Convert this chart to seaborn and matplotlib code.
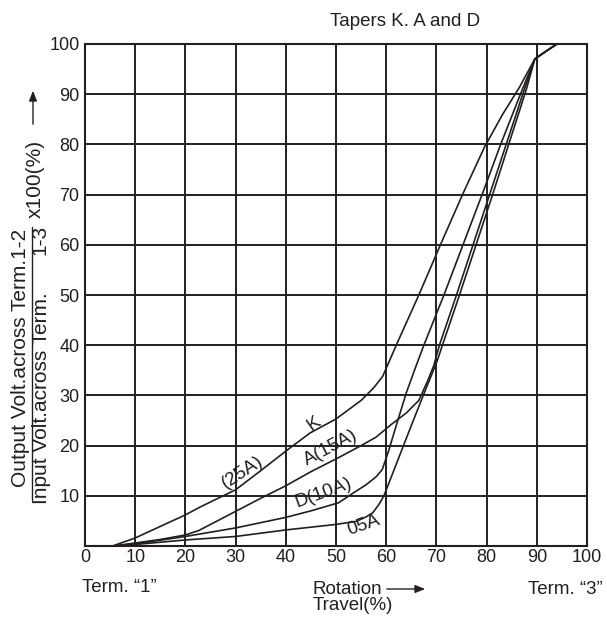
import matplotlib
matplotlib.use("Agg")
import matplotlib.pyplot as plt
from matplotlib.lines import Line2D
import pandas as pd
import seaborn as sns

# -----------------------------
# Taper curves (rotation travel %, output %)
# -----------------------------
travel_k = [5.5, 10, 15, 20, 23, 30, 35, 40, 44.8, 50, 55, 57.5, 59.3, 60.7, 62, 66.5, 70.8, 75.2, 79.6, 83.2, 86.5, 89.6, 91.6, 94]
volt_k = [0, 1.6, 3.9, 6.2, 7.8, 11.2, 15, 18.9, 22.5, 25.3, 29, 31.5, 33.8, 37, 40, 50, 60, 70, 79.5, 86, 91.3, 97, 98.4, 100]

travel_a = [5.5, 10, 15, 20, 22.7, 30, 35, 40, 45, 50.5, 55, 58, 61, 64, 66.5, 68.3, 69.5, 70.6, 74.0, 77.3, 80.6, 83.9, 87.5, 89.6, 91.6, 94]
volt_a = [0, 0.6, 1.3, 2.2, 3.1, 6.9, 9.5, 12, 14.8, 17.6, 20, 21.7, 24.2, 26.5, 29, 33, 36, 40, 50, 60, 70, 80, 90.9, 97, 98.4, 100]

travel_d = [5.5, 10, 20, 30, 40, 45, 50.5, 53.5, 56, 58, 59.2, 60.5, 62, 64, 66, 67.5, 71.5, 75.3, 79.1, 82.8, 87.1, 89.6, 91.6, 94]
volt_d = [0, 0.4, 1.9, 3.6, 5.7, 7, 8.6, 10.6, 12.2, 13.8, 15.2, 19, 24, 30.5, 36, 40, 50, 60, 70, 80, 90.9, 97, 98.4, 100]

travel_05a = [5.5, 10, 20, 30, 40, 50, 54, 56, 57.3, 58.5, 59.5, 61.5, 63.4, 65.4, 67.3, 69, 70.2, 71.2, 74.6, 77.9, 81.2, 84.4, 87.9, 89.6, 91.6, 94]
volt_05a = [0, 0.3, 1.2, 1.9, 3.2, 4.3, 4.9, 5.8, 6.6, 8.2, 9.9, 15, 19.9, 25, 29.8, 34, 37, 40, 50, 60, 70, 80, 90.9, 97, 98.4, 100]

x_ticks = [0, 10, 20, 30, 40, 50, 60, 70, 80, 90, 100]
y_ticks = [0, 10, 20, 30, 40, 50, 60, 70, 80, 90, 100]
y_tick_labels = ["", "10", "20", "30", "40", "50", "60", "70", "80", "90", "100"]

curve_labels = ["(25A)", "K", "A(15A)", "D(10A)", "05A"]
label_x = [31.3, 45.6, 49.0, 47.6, 55.5]
label_y = [14.6, 24.4, 19.6, 10.6, 4.2]
label_rot = [33, 35, 28, 20, 19]

INK = "#231f20"

frames = []
for name, t, v in [("K", travel_k, volt_k), ("A", travel_a, volt_a),
                   ("D", travel_d, volt_d), ("05A", travel_05a, volt_05a)]:
    frames.append(pd.DataFrame({"travel": t, "volt": v, "taper": name}))
df = pd.concat(frames, ignore_index=True)

sns.set_theme(style="white")
plt.rcParams["font.family"] = ["Liberation Sans", "DejaVu Sans"]

W, H = 607, 621
fig = plt.figure(figsize=(W / 100, H / 100), dpi=100)
ax = fig.add_axes([85 / W, 1 - 546 / H, (587 - 85) / W, (546 - 44) / H])

sns.lineplot(data=df, x="travel", y="volt", units="taper", estimator=None,
             sort=False, color=INK, lw=1.2, ax=ax, legend=False)

ax.set_xlim(0, 100)
ax.set_ylim(0, 100)
ax.set_xticks(x_ticks)
ax.set_yticks(y_ticks)
ax.set_yticklabels(y_tick_labels)
ax.grid(True, color=INK, lw=1.4)
ax.tick_params(length=0, labelsize=13, labelcolor=INK)
ax.tick_params(axis="x", pad=2)
ax.tick_params(axis="y", pad=4)
for s in ax.spines.values():
    s.set_color(INK)
    s.set_linewidth(1.5)
ax.set_xlabel("")
ax.set_ylabel("")

for s, x, y, r in zip(curve_labels, label_x, label_y, label_rot):
    ax.text(x, y, s, rotation=r, rotation_mode="anchor", ha="center", va="center",
            fontsize=13.5, color=INK)

# title
fig.text(405 / W, 1 - 22 / H, "Tapers K. A and D", ha="center", va="center",
         fontsize=13.5, color=INK)

# y label as a fraction
fig.text(21 / W, 1 - 357.5 / H, "Output Volt.across Term.1-2", rotation=90,
         ha="center", va="center", fontsize=15, color=INK)
fig.text(41.5 / W, 1 - 398.5 / H, "Input Volt.across Term.", rotation=90,
         ha="center", va="center", fontsize=15, color=INK)
fig.text(39.5 / W, 1 - 240 / H, "1-3", rotation=90,
         ha="center", va="center", fontsize=15, color=INK)
fig.text(35 / W, 1 - 178.5 / H, "x100(%)", rotation=90,
         ha="center", va="center", fontsize=15, color=INK)
fig.add_artist(Line2D([32 / W, 32 / W], [1 - 500 / H, 1 - 227 / H],
                      transform=fig.transFigure, color=INK, lw=1.0))
ax.annotate("", xy=(33 / W, 1 - 88 / H), xytext=(33 / W, 1 - 127 / H),
            xycoords="figure fraction", textcoords="figure fraction",
            arrowprops=dict(arrowstyle="-|>,head_length=0.5,head_width=0.2",
                            color=INK, lw=1.0))

# bottom labels
fig.text(82 / W, 1 - 587 / H, "Term. \u201c1\u201d", ha="left", va="center",
         fontsize=13.5, color=INK)
fig.text(313 / W, 1 - 589 / H, "Rotation", ha="left", va="center",
         fontsize=13.5, color=INK)
fig.text(313 / W, 1 - 606 / H, "Travel(%)", ha="left", va="center",
         fontsize=13.5, color=INK)
fig.text(603 / W, 1 - 589 / H, "Term. \u201c3\u201d", ha="right", va="center",
         fontsize=13.5, color=INK)
ax.annotate("", xy=(428 / W, 1 - 589 / H), xytext=(384 / W, 1 - 589 / H),
            xycoords="figure fraction", textcoords="figure fraction",
            arrowprops=dict(arrowstyle="-|>,head_length=0.5,head_width=0.2",
                            color=INK, lw=1.0))

fig.savefig("out.png", dpi=100)
